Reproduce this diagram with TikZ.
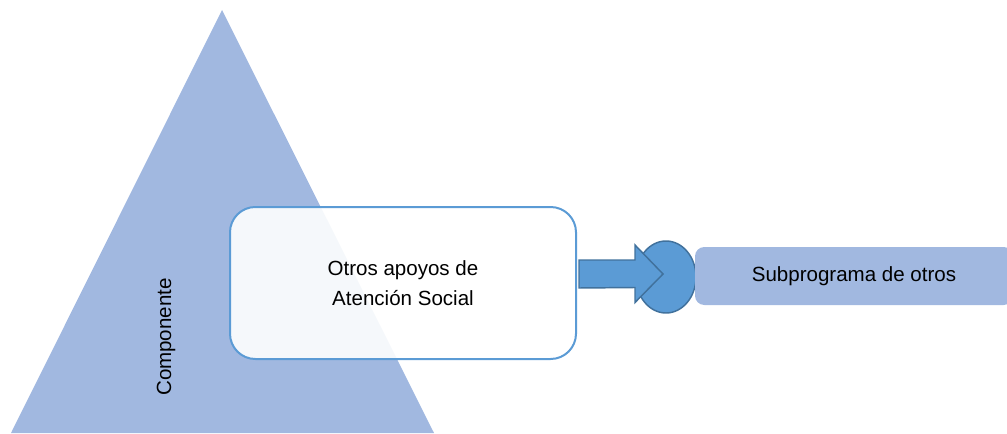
\documentclass[tikz,border=0pt]{standalone}
\usepackage{fontspec}
\setmainfont{Liberation Sans}
\usetikzlibrary{shapes.geometric}
\definecolor{pirlight}{RGB}{161,184,224}
\definecolor{pirblue}{RGB}{91,155,213}
\definecolor{pirdark}{RGB}{65,113,156}
\tikzset{
  txt/.style={font=\fontsize{15.4}{22}\selectfont, align=center},
  caja/.style={txt, draw=pirblue, line width=1.5pt, fill=white, fill opacity=0.9, text opacity=1,
    rounded corners=19pt, minimum width=259.5pt, minimum height=114pt, inner sep=0pt},
  sub/.style={txt, fill=pirlight, rounded corners=7pt, minimum width=238.5pt, minimum height=43.5pt, inner sep=0pt},
  bola/.style={ellipse, draw=pirdark, line width=1.1pt, fill=pirblue, minimum width=45pt, minimum height=54pt, inner sep=0pt},
  flecha/.style={draw=pirdark, line width=1.1pt, fill=pirblue, line join=miter}
}
\begin{document}
\begin{tikzpicture}[x=0.75pt,y=0.75pt]
\clip (0,0) rectangle (1007,433);
% piramide
\fill[color=pirlight] (11,0) -- (222,423) -- (434,0) -- cycle;
\node[txt, rotate=90] (comp) at (166,96) {Componente};

\node[caja] (otros) at (403,150) {Otros apoyos de\\Atención Social};
\node[bola] (circ) at (666,156) {};
% flecha de bloque
\coordinate (cola) at (579,159);
\coordinate (punta) at (663,159);
\draw[flecha] ([yshift=14*0.75pt]cola) -- ++(56,0) -- ++(0,15) -- (punta)
  -- ++(-28,-28.5) -- ++(0,15) -- ([yshift=-14*0.75pt]cola) -- cycle;
\node[sub] (subp) at (854,157) {Subprograma de otros};
\end{tikzpicture}
\end{document}
